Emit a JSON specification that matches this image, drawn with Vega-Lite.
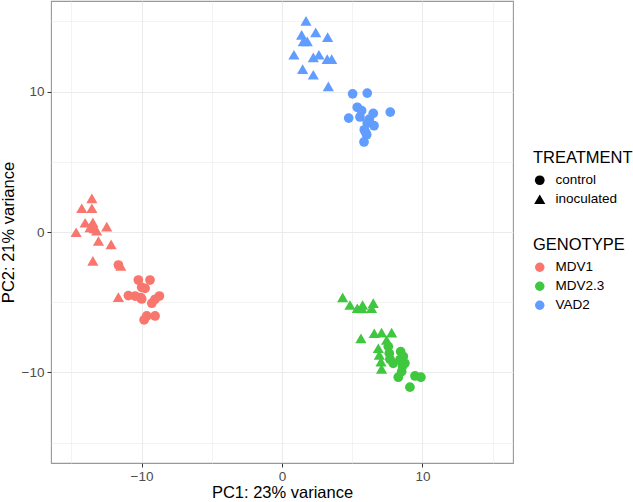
{
  "$schema": "https://vega.github.io/schema/vega-lite/v6.json",
  "width": 462,
  "height": 462,
  "autosize": {"type": "none"},
  "padding": {"left": 51, "top": 1, "right": 120, "bottom": 39},
  "background": "white",
  "config": {
    "font": "Liberation Sans",
    "view": {"stroke": "#999999", "strokeWidth": 1.1}
  },
  "data": {
    "values": [
      {"PC1": -13.54, "PC2": 2.40, "GENOTYPE": "MDV1", "TREATMENT": "inoculated"},
      {"PC1": -14.26, "PC2": 1.69, "GENOTYPE": "MDV1", "TREATMENT": "inoculated"},
      {"PC1": -13.54, "PC2": 1.69, "GENOTYPE": "MDV1", "TREATMENT": "inoculated"},
      {"PC1": -14.02, "PC2": 0.66, "GENOTYPE": "MDV1", "TREATMENT": "inoculated"},
      {"PC1": -13.47, "PC2": 0.69, "GENOTYPE": "MDV1", "TREATMENT": "inoculated"},
      {"PC1": -13.67, "PC2": 0.33, "GENOTYPE": "MDV1", "TREATMENT": "inoculated"},
      {"PC1": -13.38, "PC2": 0.26, "GENOTYPE": "MDV1", "TREATMENT": "inoculated"},
      {"PC1": -13.20, "PC2": 0.10, "GENOTYPE": "MDV1", "TREATMENT": "inoculated"},
      {"PC1": -12.48, "PC2": 0.38, "GENOTYPE": "MDV1", "TREATMENT": "inoculated"},
      {"PC1": -14.66, "PC2": -0.02, "GENOTYPE": "MDV1", "TREATMENT": "inoculated"},
      {"PC1": -13.07, "PC2": -0.64, "GENOTYPE": "MDV1", "TREATMENT": "inoculated"},
      {"PC1": -12.17, "PC2": -0.88, "GENOTYPE": "MDV1", "TREATMENT": "inoculated"},
      {"PC1": -13.47, "PC2": -2.06, "GENOTYPE": "MDV1", "TREATMENT": "inoculated"},
      {"PC1": -11.48, "PC2": -2.42, "GENOTYPE": "MDV1", "TREATMENT": "inoculated"},
      {"PC1": -11.65, "PC2": -4.64, "GENOTYPE": "MDV1", "TREATMENT": "inoculated"},
      {"PC1": -11.65, "PC2": -2.35, "GENOTYPE": "MDV1", "TREATMENT": "control"},
      {"PC1": -10.23, "PC2": -3.42, "GENOTYPE": "MDV1", "TREATMENT": "control"},
      {"PC1": -9.40, "PC2": -3.42, "GENOTYPE": "MDV1", "TREATMENT": "control"},
      {"PC1": -9.99, "PC2": -3.94, "GENOTYPE": "MDV1", "TREATMENT": "control"},
      {"PC1": -9.75, "PC2": -4.01, "GENOTYPE": "MDV1", "TREATMENT": "control"},
      {"PC1": -10.94, "PC2": -4.53, "GENOTYPE": "MDV1", "TREATMENT": "control"},
      {"PC1": -10.46, "PC2": -4.56, "GENOTYPE": "MDV1", "TREATMENT": "control"},
      {"PC1": -10.06, "PC2": -4.68, "GENOTYPE": "MDV1", "TREATMENT": "control"},
      {"PC1": -9.99, "PC2": -4.77, "GENOTYPE": "MDV1", "TREATMENT": "control"},
      {"PC1": -8.73, "PC2": -4.56, "GENOTYPE": "MDV1", "TREATMENT": "control"},
      {"PC1": -9.04, "PC2": -4.79, "GENOTYPE": "MDV1", "TREATMENT": "control"},
      {"PC1": -9.27, "PC2": -5.07, "GENOTYPE": "MDV1", "TREATMENT": "control"},
      {"PC1": -9.63, "PC2": -5.98, "GENOTYPE": "MDV1", "TREATMENT": "control"},
      {"PC1": -9.04, "PC2": -5.98, "GENOTYPE": "MDV1", "TREATMENT": "control"},
      {"PC1": -9.82, "PC2": -6.26, "GENOTYPE": "MDV1", "TREATMENT": "control"},
      {"PC1": 1.71, "PC2": 15.04, "GENOTYPE": "VAD2", "TREATMENT": "inoculated"},
      {"PC1": 1.40, "PC2": 14.04, "GENOTYPE": "VAD2", "TREATMENT": "inoculated"},
      {"PC1": 2.40, "PC2": 14.21, "GENOTYPE": "VAD2", "TREATMENT": "inoculated"},
      {"PC1": 3.25, "PC2": 13.88, "GENOTYPE": "VAD2", "TREATMENT": "inoculated"},
      {"PC1": 1.52, "PC2": 13.57, "GENOTYPE": "VAD2", "TREATMENT": "inoculated"},
      {"PC1": 1.80, "PC2": 13.57, "GENOTYPE": "VAD2", "TREATMENT": "inoculated"},
      {"PC1": 0.85, "PC2": 12.62, "GENOTYPE": "VAD2", "TREATMENT": "inoculated"},
      {"PC1": 2.23, "PC2": 12.43, "GENOTYPE": "VAD2", "TREATMENT": "inoculated"},
      {"PC1": 2.63, "PC2": 12.62, "GENOTYPE": "VAD2", "TREATMENT": "inoculated"},
      {"PC1": 3.22, "PC2": 12.31, "GENOTYPE": "VAD2", "TREATMENT": "inoculated"},
      {"PC1": 3.54, "PC2": 12.31, "GENOTYPE": "VAD2", "TREATMENT": "inoculated"},
      {"PC1": 1.47, "PC2": 11.60, "GENOTYPE": "VAD2", "TREATMENT": "inoculated"},
      {"PC1": 2.23, "PC2": 11.20, "GENOTYPE": "VAD2", "TREATMENT": "inoculated"},
      {"PC1": 3.30, "PC2": 10.37, "GENOTYPE": "VAD2", "TREATMENT": "inoculated"},
      {"PC1": 5.03, "PC2": 9.84, "GENOTYPE": "VAD2", "TREATMENT": "control"},
      {"PC1": 6.07, "PC2": 9.89, "GENOTYPE": "VAD2", "TREATMENT": "control"},
      {"PC1": 5.36, "PC2": 8.88, "GENOTYPE": "VAD2", "TREATMENT": "control"},
      {"PC1": 5.67, "PC2": 8.64, "GENOTYPE": "VAD2", "TREATMENT": "control"},
      {"PC1": 6.50, "PC2": 8.45, "GENOTYPE": "VAD2", "TREATMENT": "control"},
      {"PC1": 7.71, "PC2": 8.54, "GENOTYPE": "VAD2", "TREATMENT": "control"},
      {"PC1": 4.75, "PC2": 8.11, "GENOTYPE": "VAD2", "TREATMENT": "control"},
      {"PC1": 5.55, "PC2": 8.19, "GENOTYPE": "VAD2", "TREATMENT": "control"},
      {"PC1": 6.22, "PC2": 8.04, "GENOTYPE": "VAD2", "TREATMENT": "control"},
      {"PC1": 6.07, "PC2": 7.76, "GENOTYPE": "VAD2", "TREATMENT": "control"},
      {"PC1": 6.55, "PC2": 7.57, "GENOTYPE": "VAD2", "TREATMENT": "control"},
      {"PC1": 5.86, "PC2": 7.28, "GENOTYPE": "VAD2", "TREATMENT": "control"},
      {"PC1": 6.03, "PC2": 6.93, "GENOTYPE": "VAD2", "TREATMENT": "control"},
      {"PC1": 5.95, "PC2": 7.10, "GENOTYPE": "VAD2", "TREATMENT": "control"},
      {"PC1": 5.84, "PC2": 6.41, "GENOTYPE": "VAD2", "TREATMENT": "control"},
      {"PC1": 4.32, "PC2": -4.65, "GENOTYPE": "MDV2.3", "TREATMENT": "inoculated"},
      {"PC1": 4.84, "PC2": -5.20, "GENOTYPE": "MDV2.3", "TREATMENT": "inoculated"},
      {"PC1": 5.36, "PC2": -5.43, "GENOTYPE": "MDV2.3", "TREATMENT": "inoculated"},
      {"PC1": 5.74, "PC2": -5.20, "GENOTYPE": "MDV2.3", "TREATMENT": "inoculated"},
      {"PC1": 5.70, "PC2": -5.45, "GENOTYPE": "MDV2.3", "TREATMENT": "inoculated"},
      {"PC1": 6.50, "PC2": -5.07, "GENOTYPE": "MDV2.3", "TREATMENT": "inoculated"},
      {"PC1": 6.38, "PC2": -5.43, "GENOTYPE": "MDV2.3", "TREATMENT": "inoculated"},
      {"PC1": 5.62, "PC2": -7.57, "GENOTYPE": "MDV2.3", "TREATMENT": "inoculated"},
      {"PC1": 6.57, "PC2": -7.21, "GENOTYPE": "MDV2.3", "TREATMENT": "inoculated"},
      {"PC1": 7.09, "PC2": -7.16, "GENOTYPE": "MDV2.3", "TREATMENT": "inoculated"},
      {"PC1": 7.81, "PC2": -7.16, "GENOTYPE": "MDV2.3", "TREATMENT": "inoculated"},
      {"PC1": 6.86, "PC2": -8.28, "GENOTYPE": "MDV2.3", "TREATMENT": "inoculated"},
      {"PC1": 6.93, "PC2": -8.75, "GENOTYPE": "MDV2.3", "TREATMENT": "inoculated"},
      {"PC1": 7.05, "PC2": -9.23, "GENOTYPE": "MDV2.3", "TREATMENT": "inoculated"},
      {"PC1": 7.09, "PC2": -9.75, "GENOTYPE": "MDV2.3", "TREATMENT": "inoculated"},
      {"PC1": 7.45, "PC2": -7.69, "GENOTYPE": "MDV2.3", "TREATMENT": "inoculated"},
      {"PC1": 7.57, "PC2": -8.16, "GENOTYPE": "MDV2.3", "TREATMENT": "control"},
      {"PC1": 7.64, "PC2": -8.64, "GENOTYPE": "MDV2.3", "TREATMENT": "control"},
      {"PC1": 8.45, "PC2": -8.52, "GENOTYPE": "MDV2.3", "TREATMENT": "control"},
      {"PC1": 8.64, "PC2": -8.87, "GENOTYPE": "MDV2.3", "TREATMENT": "control"},
      {"PC1": 7.92, "PC2": -9.35, "GENOTYPE": "MDV2.3", "TREATMENT": "control"},
      {"PC1": 8.75, "PC2": -9.35, "GENOTYPE": "MDV2.3", "TREATMENT": "control"},
      {"PC1": 8.52, "PC2": -9.94, "GENOTYPE": "MDV2.3", "TREATMENT": "control"},
      {"PC1": 8.28, "PC2": -10.34, "GENOTYPE": "MDV2.3", "TREATMENT": "control"},
      {"PC1": 9.47, "PC2": -10.25, "GENOTYPE": "MDV2.3", "TREATMENT": "control"},
      {"PC1": 9.89, "PC2": -10.34, "GENOTYPE": "MDV2.3", "TREATMENT": "control"},
      {"PC1": 9.11, "PC2": -11.05, "GENOTYPE": "MDV2.3", "TREATMENT": "control"},
      {"PC1": 8.59, "PC2": -9.54, "GENOTYPE": "MDV2.3", "TREATMENT": "control"},
      {"PC1": 7.69, "PC2": -9.06, "GENOTYPE": "MDV2.3", "TREATMENT": "control"},
      {"PC1": 8.40, "PC2": -9.10, "GENOTYPE": "MDV2.3", "TREATMENT": "control"}
    ]
  },
  "mark": {"type": "point", "filled": true, "opacity": 1},
  "encoding": {
    "x": {
      "field": "PC1", "type": "quantitative",
      "scale": {"domain": [-16.45, 16.45], "nice": false, "zero": false},
      "axis": {
        "title": "PC1: 23% variance",
        "values": [-15, -10, -5, 0, 5, 10, 15],
        "labelExpr": "datum.value % 10 === 0 ? datum.label : ''",
        "domain": false,
        "grid": true,
        "gridColor": "#EBEBEB",
        "gridWidth": {"condition": {"test": "datum.value % 10 !== 0", "value": 0.6}, "value": 1.1},
        "tickOpacity": {"condition": {"test": "datum.value % 10 !== 0", "value": 0}, "value": 1},
        "tickColor": "#333333",
        "tickSize": 4,
        "labelFontSize": 13.5,
        "labelColor": "#4D4D4D",
        "labelPadding": 2,
        "titleFontSize": 16.5,
        "titleFontWeight": "normal",
        "titleColor": "#000000",
        "titlePadding": 2
      }
    },
    "y": {
      "field": "PC2", "type": "quantitative",
      "scale": {"domain": [-16.45, 16.45], "nice": false, "zero": false},
      "axis": {
        "title": "PC2: 21% variance",
        "values": [-15, -10, -5, 0, 5, 10, 15],
        "labelExpr": "datum.value % 10 === 0 ? datum.label : ''",
        "domain": false,
        "grid": true,
        "gridColor": "#EBEBEB",
        "gridWidth": {"condition": {"test": "datum.value % 10 !== 0", "value": 0.6}, "value": 1.1},
        "tickOpacity": {"condition": {"test": "datum.value % 10 !== 0", "value": 0}, "value": 1},
        "tickColor": "#333333",
        "tickSize": 4,
        "labelFontSize": 13.5,
        "labelColor": "#4D4D4D",
        "labelPadding": 3,
        "titleFontSize": 16.5,
        "titleFontWeight": "normal",
        "titleColor": "#000000",
        "titlePadding": 5
      }
    },
    "size": {
      "field": "TREATMENT", "type": "nominal",
      "scale": {"domain": ["control", "inoculated"], "range": [95, 125]}
    },
    "color": {
      "field": "GENOTYPE", "type": "nominal",
      "scale": {"domain": ["MDV1", "MDV2.3", "VAD2"], "range": ["#F8766D", "#3FC83F", "#619CFF"]},
      "legend": {
        "orient": "none", "legendX": 482, "legendY": 236,
        "title": "GENOTYPE",
        "titleFontSize": 16.5, "titleFontWeight": "normal", "titleColor": "#000000",
        "titlePadding": 7,
        "labelFontSize": 13.5, "labelColor": "#000000", "labelOffset": 9,
        "symbolType": "circle", "symbolSize": 90, "rowPadding": 4
      }
    },
    "shape": {
      "field": "TREATMENT", "type": "nominal",
      "scale": {"domain": ["control", "inoculated"], "range": ["circle", "triangle-up"]},
      "legend": {
        "orient": "none", "legendX": 482, "legendY": 149,
        "title": "TREATMENT",
        "titleFontSize": 16.5, "titleFontWeight": "normal", "titleColor": "#000000",
        "titlePadding": 7,
        "labelFontSize": 13.5, "labelColor": "#000000", "labelOffset": 9,
        "symbolFillColor": "#000000", "symbolStrokeWidth": 0, "rowPadding": 4
      }
    }
  }
}
